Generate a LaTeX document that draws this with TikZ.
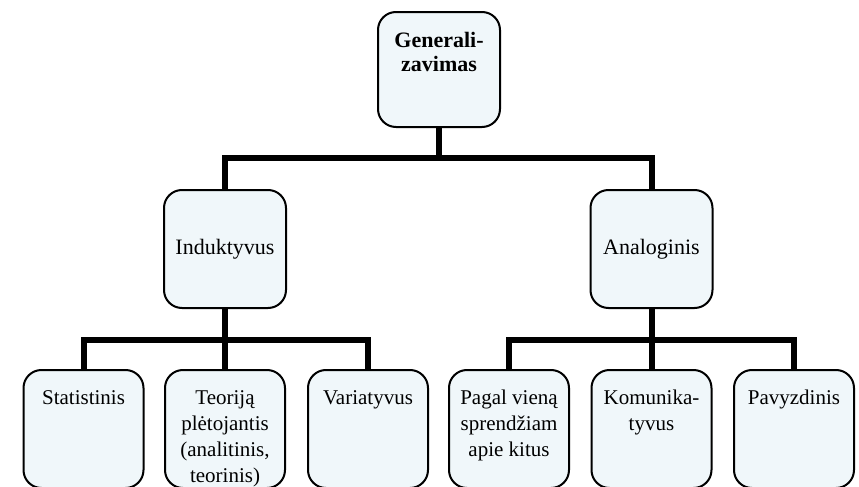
\documentclass[tikz,border=0pt]{standalone}
\usepackage{fontspec}
\setmainfont{Liberation Serif}
\usepackage{xcolor}
\usetikzlibrary{positioning}
\definecolor{boxfill}{RGB}{240,247,250}

\begin{document}
\begin{tikzpicture}[
    x=0.5pt,
    y=-0.5pt,
    every node/.style={font=\fontsize{11}{12}\selectfont},
    box/.style={draw, line width=1pt, fill=boxfill, rounded corners=9pt, minimum width=61pt, minimum height=59pt, inner sep=0pt},
    leaf/.style={box, minimum width=60pt},
    txt/.style={align=center, inner sep=0pt},
    leaftxt/.style={txt, font=\fontsize{10.5}{13}\selectfont},
    bar/.style={line width=3pt, line join=miter}
]
\clip (0,0) rectangle (859,487);

\node[box, minimum height=57.5pt] (gen) at (439,69.5) {};
\node[txt, font=\fontsize{11}{12}\selectfont\bfseries, below=10.5pt of gen.north] (gentxt) {Generali-\\zavimas};

\node[box] (ind) at (225,249) {Induktyvus};
\node[box] (ana) at (651.5,249) {Analoginis};

\node[leaf] (ind1) at (83.5,429) {};
\node[leaf] (ind2) at (225,429) {};
\node[leaf] (ind3) at (368,429) {};
\node[leaf] (ana1) at (509,429) {};
\node[leaf] (ana2) at (651.5,429) {};
\node[leaf] (ana3) at (794,429) {};

\node[leaftxt, below=10.5pt of ind1.north] (ind1txt) {Statistinis};
\node[leaftxt, below=10.5pt of ind2.north] (ind2txt) {Teoriją\\plėtojantis\\(analitinis,\\teorinis)};
\node[leaftxt, below=10.5pt of ind3.north] (ind3txt) {Variatyvus};
\node[leaftxt, below=10.5pt of ana1.north] (ana1txt) {Pagal vieną\\sprendžiam\\apie kitus};
\node[leaftxt, below=10.5pt of ana2.north] (ana2txt) {Komunika-\\tyvus};
\node[leaftxt, below=10.5pt of ana3.north] (ana3txt) {Pavyzdinis};

\coordinate (hub) at (439,158);
\coordinate (indhub) at (225,340);
\coordinate (anahub) at (651.5,340);

\draw[bar] (gen) -- (hub);
\draw[bar] (ind.north) |- (hub) -| (ana.north);
\foreach \a/\h/\b/\c in {ind/indhub/ind1/ind3, ana/anahub/ana1/ana3} {
  \draw[bar] (\a) -- (\h);
  \draw[bar] (\b.north) |- (\h) -| (\c.north);
}
\draw[bar] (indhub) -- (ind2);
\draw[bar] (anahub) -- (ana2);
\end{tikzpicture}
\end{document}
